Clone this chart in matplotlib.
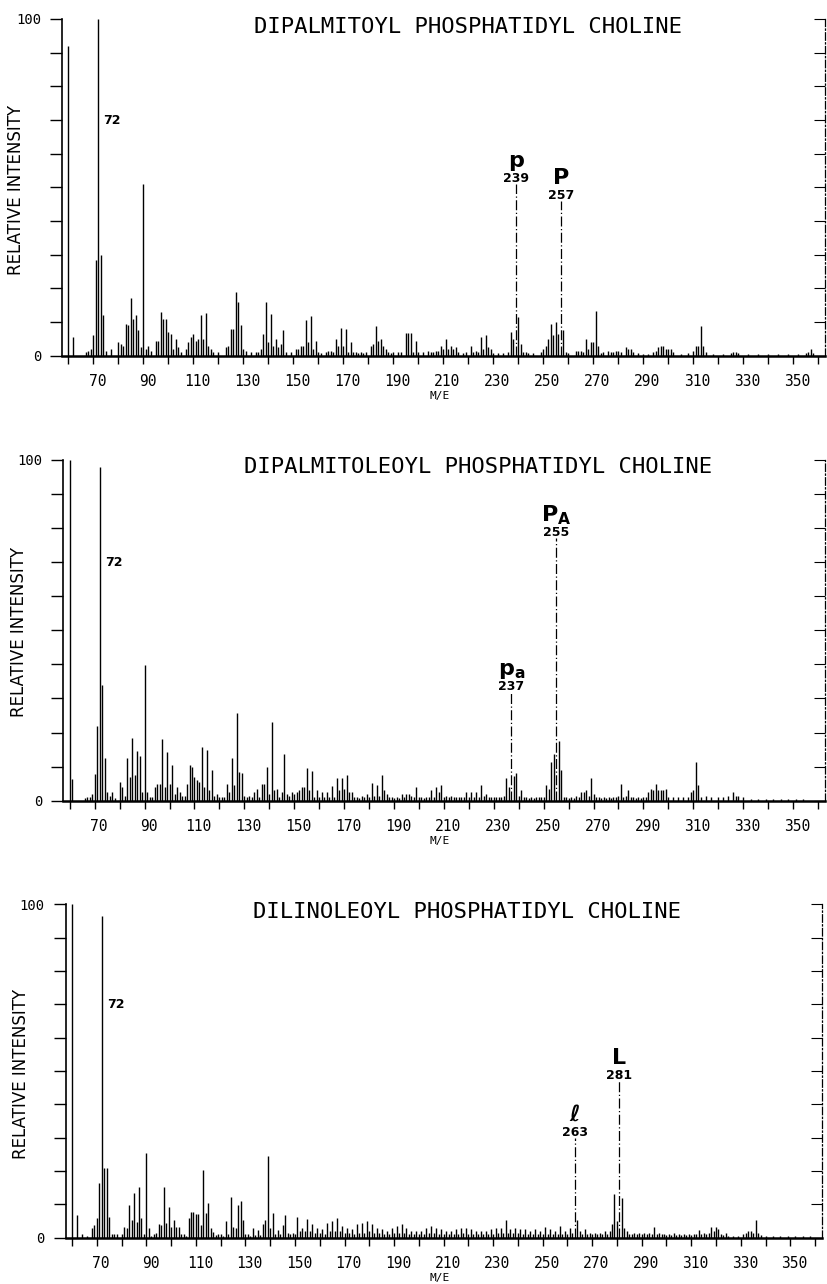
import matplotlib.pyplot as plt
from matplotlib.transforms import ScaledTranslation

# mass spectra of three phosphatidyl cholines
# (m/z, relative intensity %)
peaks_dppc = [
    (60, 92), (62, 5.5), (67, 1), (68, 1.5), (69, 2), (70, 6), (71, 28.5), (72, 100), (73, 30), (74, 12), (75, 1.5), (77, 2),
    (80, 4), (81, 3.5), (82, 3), (83, 9.5), (84, 9), (85, 17), (86, 11), (87, 12), (88, 7.7), (89, 2.5), (90, 51), (91, 2),
    (92, 3), (93, 1.5), (95, 4.5), (96, 4.5), (97, 13), (98, 11), (99, 11), (100, 7), (101, 6.5), (102, 2), (103, 5), (104, 2.5),
    (105, 1), (107, 2), (108, 4), (109, 5.5), (110, 6.5), (111, 4.5), (112, 5), (113, 12), (114, 5), (115, 12.7), (116, 3),
    (117, 2), (118, 1), (120, 1), (123, 2.5), (124, 3), (125, 8), (126, 8), (127, 19), (128, 16), (129, 9), (130, 2), (131, 1.5),
    (133, 1), (135, 1), (136, 1), (137, 2), (138, 6.5), (139, 16), (140, 4), (141, 12.5), (142, 3), (143, 5), (144, 2.5),
    (145, 3.5), (146, 7.7), (147, 1), (149, 1), (151, 2), (152, 2), (153, 3), (154, 3), (155, 10.5), (156, 4), (157, 11.7),
    (158, 2), (159, 4.5), (160, 1), (161, 0.8), (163, 1), (164, 1.5), (165, 1.5), (166, 1), (167, 5), (168, 3), (169, 8.3),
    (170, 3), (171, 8), (172, 1), (173, 4.2), (174, 1), (175, 1), (176, 0.8), (177, 1), (178, 0.8), (179, 1), (181, 3),
    (182, 3.5), (183, 8.7), (184, 4.5), (185, 5), (186, 3), (187, 2), (188, 1), (189, 0.8), (190, 1), (192, 1), (193, 1),
    (195, 6.8), (196, 6.8), (197, 6.8), (198, 1), (199, 4.3), (200, 1), (202, 1), (204, 1.5), (205, 1), (206, 1), (207, 1.5),
    (208, 1.5), (209, 3), (210, 2), (211, 5), (212, 2), (213, 3), (214, 2), (215, 2.5), (216, 1), (218, 0.8), (219, 1),
    (221, 3), (222, 1), (223, 1.5), (224, 1), (225, 5.7), (226, 2), (227, 6.2), (228, 2.5), (229, 2), (230, 0.8), (232, 0.8),
    (234, 0.8), (236, 1), (237, 7), (238, 5), (239, 51), (240, 11.5), (241, 3.5), (242, 1), (243, 1), (244, 0.8), (246, 0.8),
    (249, 1), (250, 2), (251, 3), (252, 5), (253, 9.3), (254, 6), (255, 10), (256, 6.3), (257, 46), (258, 7.5), (259, 1),
    (260, 0.8), (263, 1.5), (264, 1.5), (265, 1.5), (266, 1), (267, 5), (268, 2), (269, 4), (270, 4), (271, 13.2), (272, 3),
    (273, 0.8), (274, 1), (276, 1.5), (277, 1), (278, 1), (279, 1.5), (280, 1.5), (281, 1), (283, 2.5), (284, 2), (285, 2),
    (286, 1), (288, 0.8), (290, 0.5), (292, 0.5), (294, 1), (295, 1.5), (296, 2.5), (297, 3), (298, 3), (299, 2), (300, 2),
    (301, 2), (302, 1), (305, 0.5), (308, 0.8), (310, 1.5), (311, 3), (312, 3), (313, 8.8), (314, 3), (315, 1), (318, 0.5),
    (322, 0.5), (325, 0.8), (326, 1), (327, 1), (328, 0.8), (332, 0.5), (336, 0.5), (340, 0.5), (344, 0.5), (348, 0.5),
    (352, 0.5), (355, 0.8), (356, 1), (357, 2), (358, 0.8),
]

peaks_dppoc = [
    (60, 100), (61, 6.3), (66, 0.8), (67, 1), (68, 1), (69, 2), (70, 7.7), (71, 22), (72, 98), (73, 34), (74, 12.4), (75, 2.6),
    (76, 1.5), (77, 2.6), (78, 0.8), (80, 5.6), (81, 4), (82, 1.5), (83, 12.4), (84, 7), (85, 18.3), (86, 7.6), (87, 14.7),
    (88, 13), (89, 2.5), (90, 39.8), (91, 2.5), (92, 1), (93, 1), (94, 4), (95, 5), (96, 5), (97, 18), (98, 4), (99, 14.4),
    (100, 5), (101, 10.5), (102, 2), (103, 4), (104, 2.5), (105, 1.5), (106, 1.5), (107, 5), (108, 10.5), (109, 10), (110, 7),
    (111, 6), (112, 5.5), (113, 15.8), (114, 4), (115, 15), (116, 3), (117, 9), (118, 1.5), (119, 2), (120, 1), (121, 1),
    (122, 1), (123, 5), (124, 2.5), (125, 12.4), (126, 4.5), (127, 25.6), (128, 8.5), (129, 8), (130, 1.5), (131, 1),
    (132, 1.5), (133, 1), (134, 2.5), (135, 3.5), (136, 1), (137, 5), (138, 5), (139, 10), (140, 2), (141, 23), (142, 3),
    (143, 3.5), (144, 1), (145, 2.5), (146, 13.7), (147, 2), (148, 1.5), (149, 2.5), (150, 2), (151, 2.5), (152, 3), (153, 4),
    (154, 4), (155, 9.6), (156, 3), (157, 8.8), (158, 1), (159, 3), (160, 1), (161, 2.5), (162, 1), (163, 2.5), (164, 1),
    (165, 4.4), (166, 1), (167, 6.7), (168, 3), (169, 6.7), (170, 3.5), (171, 7.5), (172, 2.5), (173, 2.5), (174, 1), (175, 1),
    (176, 0.8), (177, 1.5), (178, 1), (179, 2), (180, 1), (181, 5.2), (182, 1.5), (183, 4.7), (184, 1.5), (185, 7.5), (186, 3),
    (187, 2), (188, 1), (189, 1), (190, 0.8), (191, 1), (192, 0.8), (193, 2), (194, 1), (195, 2), (196, 2), (197, 1.5),
    (198, 1), (199, 4), (200, 1), (201, 1), (202, 0.8), (203, 1), (204, 1), (205, 3), (206, 1), (207, 4), (208, 2.5),
    (209, 4.5), (210, 1), (211, 1.5), (212, 1), (213, 1.5), (214, 1), (215, 1), (216, 1), (217, 1), (218, 1), (219, 2.5),
    (220, 1), (221, 2.5), (222, 1), (223, 2.5), (224, 1), (225, 4.6), (226, 1.5), (227, 2), (228, 1), (229, 1), (230, 1),
    (231, 1), (232, 1), (233, 1), (234, 1.5), (235, 6.7), (236, 4), (237, 32), (238, 7.3), (239, 8.1), (240, 1.5), (241, 3),
    (242, 1), (243, 1), (244, 0.8), (245, 1), (246, 0.8), (247, 1), (248, 1), (249, 1), (250, 1), (251, 4.6), (252, 3.5),
    (253, 11.4), (254, 13.7), (255, 77), (256, 17.6), (257, 9), (258, 1), (259, 1), (260, 0.8), (261, 1), (262, 0.8),
    (263, 1.5), (264, 1), (265, 2.7), (266, 2.7), (267, 3), (268, 1.5), (269, 6.7), (270, 2), (271, 1), (272, 1), (273, 0.8),
    (274, 1), (275, 0.8), (276, 1), (277, 0.8), (278, 1), (279, 1), (280, 1.5), (281, 4.9), (282, 1), (283, 1.5), (284, 3),
    (285, 1), (286, 1), (287, 0.8), (288, 1), (289, 0.8), (290, 1), (291, 1), (292, 2.5), (293, 3.5), (294, 3), (295, 5),
    (296, 3), (297, 3), (298, 3), (299, 3.5), (300, 1), (302, 1), (304, 1), (306, 1), (308, 1), (309, 2.5), (310, 3),
    (311, 11.3), (312, 4.5), (313, 1), (315, 1.5), (317, 1), (320, 1), (322, 1), (324, 1.5), (326, 2.7), (327, 1.5),
    (328, 1.5), (330, 1), (333, 0.5), (336, 0.5), (339, 0.5), (342, 0.5), (345, 0.5), (348, 0.5), (351, 0.5), (354, 0.5),
]

peaks_dlpc = [
    (60, 100), (62, 6.8), (64, 1), (66, 0.5), (68, 2.8), (69, 3.8), (70, 5.8), (71, 16.5), (72, 96.5), (73, 21), (74, 21),
    (75, 6.3), (76, 1), (77, 1), (78, 1), (80, 1), (81, 3.3), (82, 3), (83, 9.8), (84, 5.3), (85, 13.3), (86, 4.8), (87, 15.1),
    (88, 5.8), (89, 1), (90, 25.5), (91, 2.8), (92, 0.5), (93, 1), (94, 1.3), (95, 4.1), (96, 3.8), (97, 15.3), (98, 4.3),
    (99, 9.3), (100, 3.3), (101, 5.3), (102, 3.3), (103, 3.3), (104, 1), (105, 1), (106, 0.5), (107, 5.8), (108, 7.8),
    (109, 7.8), (110, 7.1), (111, 7.1), (112, 3.8), (113, 20.3), (114, 7.3), (115, 10.5), (116, 2.8), (117, 1.8), (118, 0.8),
    (119, 1), (120, 1), (121, 0.5), (122, 5.1), (123, 1), (124, 12.1), (125, 3.1), (126, 2.8), (127, 9.8), (128, 11.1),
    (129, 5.3), (130, 1), (131, 1), (132, 0.5), (133, 2.8), (134, 0.8), (135, 2.3), (136, 0.8), (137, 4.1), (138, 5.3),
    (139, 24.5), (140, 2.8), (141, 7.5), (142, 1), (143, 2.3), (144, 1), (145, 3.8), (146, 6.8), (147, 1.5), (148, 1),
    (149, 1.5), (150, 1), (151, 6.3), (152, 2), (153, 3), (154, 2), (155, 5.5), (156, 2), (157, 4), (158, 1.5), (159, 3),
    (160, 1.5), (161, 2.5), (162, 1), (163, 4.5), (164, 2), (165, 5), (166, 2), (167, 6), (168, 2), (169, 3.5), (170, 1.5),
    (171, 3), (172, 1.5), (173, 2.5), (174, 1), (175, 4), (176, 1.5), (177, 4.5), (178, 1.5), (179, 5), (180, 2), (181, 4),
    (182, 1.5), (183, 3), (184, 1.5), (185, 2.5), (186, 1), (187, 2), (188, 1), (189, 3), (190, 1.5), (191, 3.5), (192, 1.5),
    (193, 4), (194, 1.5), (195, 3), (196, 1), (197, 2), (198, 1), (199, 2), (200, 1), (201, 2), (202, 1), (203, 3), (204, 1.5),
    (205, 3.5), (206, 1.5), (207, 3), (208, 1), (209, 2.5), (210, 1), (211, 2), (212, 1), (213, 2), (214, 1), (215, 2.5),
    (216, 1), (217, 3), (218, 1.5), (219, 3), (220, 1), (221, 2.5), (222, 1), (223, 2), (224, 1), (225, 2), (226, 1), (227, 2),
    (228, 1), (229, 2.5), (230, 1), (231, 3), (232, 1.5), (233, 3), (234, 1.5), (235, 5.4), (236, 1.5), (237, 2.5), (238, 1.5),
    (239, 3), (240, 1.5), (241, 2.5), (242, 1), (243, 2.5), (244, 1), (245, 2), (246, 1), (247, 2.5), (248, 1), (249, 2),
    (250, 1), (251, 3.2), (252, 1), (253, 2.5), (254, 1), (255, 2), (256, 1), (257, 3.4), (258, 1), (259, 2), (260, 1),
    (261, 3), (262, 1.5), (263, 30), (264, 5.3), (265, 2), (266, 1), (267, 2.5), (268, 1), (269, 1.5), (270, 1), (271, 1.5),
    (272, 1), (273, 1.5), (274, 1), (275, 2), (276, 1), (277, 2), (278, 4), (279, 13), (280, 5), (281, 47), (282, 12),
    (283, 3), (284, 2), (285, 1), (286, 1), (287, 1.5), (288, 1), (289, 1.5), (290, 1), (291, 1.5), (292, 1), (293, 1.5),
    (294, 1), (295, 3.2), (296, 1), (297, 1.5), (298, 1), (299, 1), (300, 0.8), (301, 1), (302, 0.8), (303, 1.5), (304, 0.8),
    (305, 1), (306, 0.8), (307, 1), (308, 0.8), (309, 1), (310, 0.8), (311, 1), (312, 1.2), (313, 2.2), (314, 1), (315, 1.5),
    (316, 1), (317, 1.5), (318, 3.2), (319, 2), (320, 3.2), (321, 2.5), (322, 1), (323, 0.8), (324, 1.5), (325, 0.5),
    (327, 0.5), (329, 0.5), (331, 1), (332, 1.5), (333, 2), (334, 2), (335, 1.5), (336, 5.4), (337, 1.5), (338, 0.8),
    (340, 0.5), (343, 0.5), (346, 0.5), (349, 0.5), (352, 0.5), (355, 0.5), (358, 0.5),
]

titles = ['DIPALMITOYL PHOSPHATIDYL CHOLINE',
          'DIPALMITOLEOYL PHOSPHATIDYL CHOLINE',
          'DILINOLEOYL PHOSPHATIDYL CHOLINE']
spectra = [peaks_dppc, peaks_dppoc, peaks_dlpc]
# labelled ions: (m/z, symbol)
labelled = [
    [(239, 'p'), (257, 'P')],
    [(237, r'$\mathbf{p_a}$'), (255, r'$\mathbf{P_A}$')],
    [(263, 'ℓ'), (281, 'L')],
]
x_ticks = list(range(60, 361, 10))
x_ticklabels = [str(t) if (t // 10) % 2 == 1 else '' for t in x_ticks]

# layout in pixels: left, right, top(100 %), bottom(0 %)
W, H = 828, 1284
boxes = [(62, 825, 19, 355.7), (63.3, 825, 460, 800.7), (65.7, 822, 904.3, 1237.7)]
title_pos = [(468, 27), (478, 467), (467, 912)]
ylab_pos = [(16, 190), (19, 632), (21, 1074)]
me_pos = [(440, 396), (440, 841), (440, 1278)]

mono = 'DejaVu Sans Mono'
fig = plt.figure(figsize=(W / 100, H / 100), dpi=100)

for i in range(3):
    l, r, t, b = boxes[i]
    ax = fig.add_axes([l / W, 1 - b / H, (r - l) / W, (b - t) / H])
    mz = [p[0] for p in spectra[i]]
    inten = [p[1] for p in spectra[i]]
    marked = [m for m, s in labelled[i]]

    solid_x = [m for m in mz if m not in marked]
    solid_y = [v for m, v in zip(mz, inten) if m not in marked]
    ax.vlines(solid_x, 0, solid_y, color='black', lw=1.0)
    dash_x = [m for m in mz if m in marked]
    dash_y = [v for m, v in zip(mz, inten) if m in marked]
    ax.vlines(dash_x, 0, dash_y, color='black', lw=0.9, linestyles=(0, (8, 2, 1, 2)))

    ax.set_xlim(57.4, 362.8)
    ax.set_ylim(0, 100)

    for side in ['top', 'right']:
        ax.spines[side].set_visible(False)
    ax.spines['left'].set_linewidth(1.2)
    ax.spines['bottom'].set_linewidth(1.8)

    ax.set_xticks(x_ticks)
    ax.set_xticklabels(x_ticklabels, fontfamily=mono, fontsize=10.5)
    ax.set_yticks(list(range(0, 101, 10)))
    ax.set_yticklabels(['0'] + [''] * 9 + ['100'], fontfamily=mono, fontsize=10)
    ax.tick_params(axis='x', direction='out', length=6, width=1, pad=7)
    ax.tick_params(axis='y', direction='out', length=9, width=1, pad=6)
    shift = ScaledTranslation(3 / 72, 0, fig.dpi_scale_trans)
    for lab in ax.get_xticklabels():
        lab.set_transform(lab.get_transform() + shift)

    # right frame, dash-dot with inward ticks
    axr = ax.twinx()
    axr.set_ylim(0, 100)
    axr.set_yticks(list(range(0, 101, 10)))
    axr.tick_params(axis='y', direction='in', length=8, width=0.8, labelright=False)
    for side in ['top', 'left', 'bottom']:
        axr.spines[side].set_visible(False)
    axr.spines['right'].set_linestyle((0, (6, 2, 1, 2)))
    axr.spines['right'].set_linewidth(0.9)

    # peak labels
    ax.annotate('72', xy=(72, 70), xytext=(5, 0), textcoords='offset pixels',
                ha='left', va='center', fontsize=9, fontweight='bold')
    for m, sym in labelled[i]:
        v = dict(spectra[i])[m]
        ax.annotate(str(m), xy=(m, v), xytext=(0, 2), textcoords='offset pixels',
                    ha='center', va='baseline', fontsize=9, fontweight='bold')
        ax.annotate(sym, xy=(m, v), xytext=(0, 17), textcoords='offset pixels',
                    ha='center', va='baseline', fontsize=16, fontweight='bold')

    tx, ty = title_pos[i]
    fig.text(tx / W, 1 - ty / H, titles[i], ha='center', va='center',
             fontfamily=mono, fontsize=16)
    yx, yy = ylab_pos[i]
    fig.text(yx / W, 1 - yy / H, 'RELATIVE INTENSITY', rotation=90, ha='center', va='center',
             fontfamily=['Liberation Sans Narrow', 'DejaVu Sans'], fontsize=12)
    mx, my = me_pos[i]
    fig.text(mx / W, 1 - my / H, 'M/E', ha='center', va='center', fontfamily=mono, fontsize=8)

fig.savefig('out.png', dpi=100, facecolor='white')
